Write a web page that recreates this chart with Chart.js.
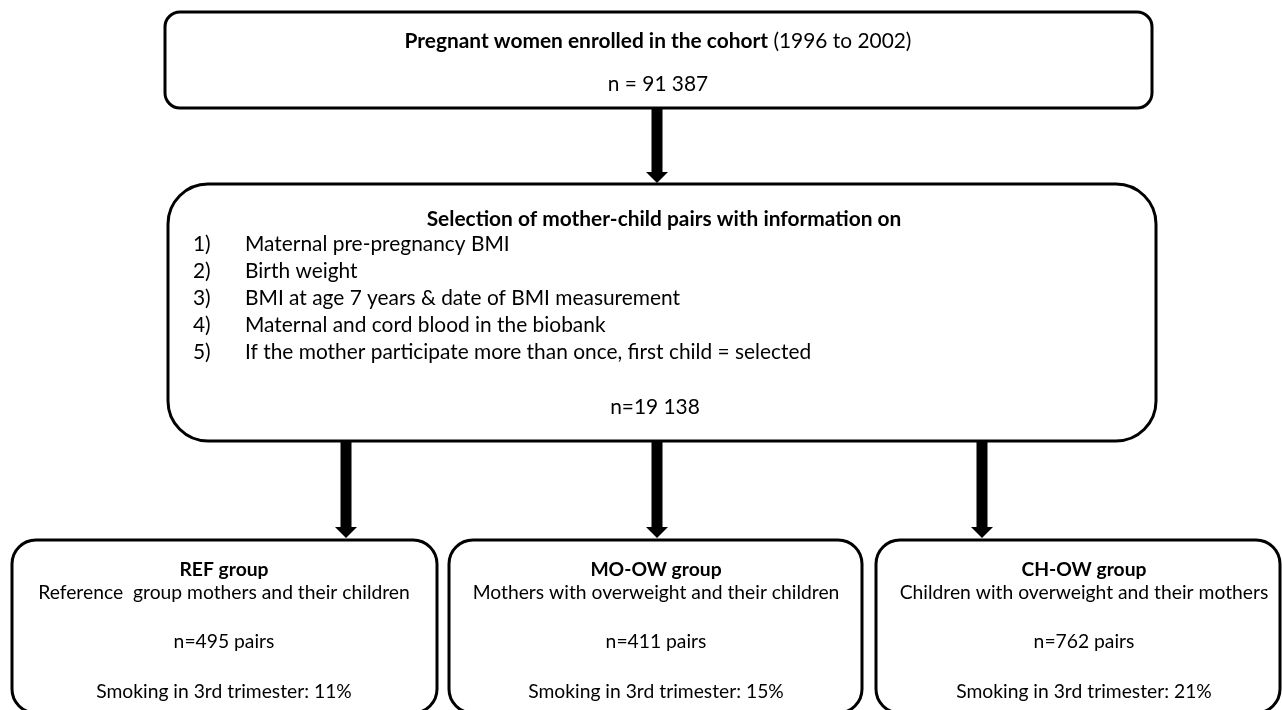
<!DOCTYPE html>
<html>
<head>
<meta charset="utf-8">
<script src="https://cdn.jsdelivr.net/npm/chart.js@4.4.0/dist/chart.umd.min.js"></script>
<style>
html,body{margin:0;padding:0;background:#fff;}
#wrap{position:relative;width:1282px;height:710px;}
</style>
</head>
<body>
<div id="wrap"><canvas id="c" width="1282" height="710"></canvas></div>
<script>
// ---- data (text content and counts) ----
const cohortTitleBold = "Pregnant women enrolled in the cohort";
const cohortTitleRest = " (1996 to 2002)";
const cohortN = "91 387";
const selectionTitle = "Selection of mother-child pairs with information on";
const criteriaNums = ["1)", "2)", "3)", "4)", "5)"];
const criteria = [
  "Maternal pre-pregnancy BMI",
  "Birth weight",
  "BMI at age 7 years & date of BMI measurement",
  "Maternal and cord blood in the biobank",
  "If the mother participate more than once, first child = selected"
];
const selectionN = "19 138";
const groupNames = ["REF group", "MO-OW group", "CH-OW group"];
const groupDescs = [
  "Reference  group mothers and their children",
  "Mothers with overweight and their children",
  "Children with overweight and their mothers"
];
const groupPairs = [495, 411, 762];
const groupSmoking = [11, 15, 21];

// ---- layout (positions in chart units, separate from data) ----
const boxLeft   = [165, 168, 12, 449, 876];
const boxRight  = [1152, 1156, 437, 862, 1280];
const boxTop    = [12, 184, 540, 540, 540];
const boxBottom = [108, 441, 713, 713, 713];
const boxRadius = [15, 40, 24, 24, 24];
const arrowX    = [657, 346, 657, 982];
const arrowFrom = [108, 441, 441, 441];
const arrowTo   = [183, 538, 538, 538];

const FONT = "Lato, 'Open Sans', sans-serif";

const flowPlugin = {
  id: 'flow',
  afterDraw(chart) {
    const ctx = chart.ctx;
    const xs = chart.scales.x, ys = chart.scales.y;
    const X = v => xs.getPixelForValue(v);
    const Y = v => ys.getPixelForValue(v);

    function rrect(l, t, r, b, rad) {
      ctx.beginPath();
      ctx.moveTo(l + rad, t);
      ctx.lineTo(r - rad, t);
      ctx.arcTo(r, t, r, t + rad, rad);
      ctx.lineTo(r, b - rad);
      ctx.arcTo(r, b, r - rad, b, rad);
      ctx.lineTo(l + rad, b);
      ctx.arcTo(l, b, l, b - rad, rad);
      ctx.lineTo(l, t + rad);
      ctx.arcTo(l, t, l + rad, t, rad);
      ctx.closePath();
    }
    function runs(list, x, y, size, align, sx) {
      ctx.save();
      ctx.textBaseline = 'middle';
      ctx.fillStyle = '#000';
      let total = 0;
      const widths = list.map(r => {
        ctx.font = (r.b ? 'bold ' : '') + size + 'px ' + FONT;
        const w = ctx.measureText(r.t).width;
        total += w;
        return w;
      });
      ctx.translate(x, y + 1);
      ctx.scale(sx, 1);
      let cx = align === 'center' ? -total / 2 : 0;
      ctx.textAlign = 'left';
      list.forEach((r, i) => {
        ctx.font = (r.b ? 'bold ' : '') + size + 'px ' + FONT;
        ctx.fillText(r.t, cx, 0);
        cx += widths[i];
      });
      ctx.restore();
    }

    ctx.save();
    ctx.strokeStyle = '#000';
    ctx.lineWidth = 3;
    for (let i = 0; i < boxLeft.length; i++) {
      rrect(X(boxLeft[i]), Y(boxTop[i]), X(boxRight[i]), Y(boxBottom[i]), boxRadius[i]);
      ctx.stroke();
    }
    ctx.restore();

    ctx.save();
    ctx.fillStyle = '#000';
    for (let i = 0; i < arrowX.length; i++) {
      const x = X(arrowX[i]), y0 = Y(arrowFrom[i]), y1 = Y(arrowTo[i]);
      const hh = 11, sw = 5.5, hw = 11;
      ctx.fillRect(x - sw, y0, sw * 2, (y1 - hh) - y0);
      ctx.beginPath();
      ctx.moveTo(x - hw, y1 - hh);
      ctx.lineTo(x + hw, y1 - hh);
      ctx.lineTo(x, y1);
      ctx.closePath();
      ctx.fill();
    }
    ctx.restore();

    const fTop = 20.9, sTop = 1.0;
    runs([{t: cohortTitleBold, b: true}, {t: cohortTitleRest, b: false}], X(658), Y(40), fTop, 'center', sTop);
    runs([{t: 'n = ' + cohortN, b: false}], X(658), Y(83), fTop, 'center', sTop);

    runs([{t: selectionTitle, b: true}], X(664), Y(218), fTop, 'center', sTop);
    const rowY = [243, 270, 297, 324, 351];
    criteria.forEach((c, i) => {
      runs([{t: criteriaNums[i], b: false}], X(193), Y(rowY[i]), fTop, 'left', sTop);
      runs([{t: c, b: false}], X(245), Y(rowY[i]), fTop, 'left', sTop);
    });
    runs([{t: 'n=' + selectionN, b: false}], X(655), Y(406), fTop, 'center', sTop);

    const cx = [224, 656, 1084];
    const fBot = 19.3;
    groupNames.forEach((g, i) => {
      runs([{t: g, b: true}], X(cx[i]), Y(569), fBot, 'center', 1);
      runs([{t: groupDescs[i], b: false}], X(cx[i]), Y(592), fBot, 'center', 1);
      runs([{t: 'n=' + groupPairs[i] + ' pairs', b: false}], X(cx[i]), Y(641), fBot, 'center', 1);
      runs([{t: 'Smoking in 3rd trimester: ' + groupSmoking[i] + '%', b: false}], X(cx[i]), Y(691), fBot, 'center', 1);
    });
  }
};

const anchors = boxLeft.map((l, i) => ({x: (l + boxRight[i]) / 2, y: (boxTop[i] + boxBottom[i]) / 2}));

new Chart(document.getElementById('c'), {
  type: 'scatter',
  data: { datasets: [{ data: anchors, pointRadius: 0, showLine: false }] },
  options: {
    responsive: false,
    animation: false,
    events: [],
    layout: { padding: 0 },
    plugins: { legend: { display: false }, tooltip: { enabled: false } },
    scales: {
      x: { type: 'linear', min: 0, max: 1282, display: false },
      y: { type: 'linear', min: 0, max: 710, reverse: true, display: false }
    }
  },
  plugins: [flowPlugin]
});
</script>
</body>
</html>
